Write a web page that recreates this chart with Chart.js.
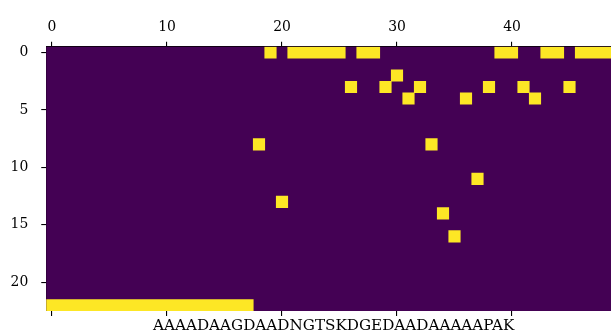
<!DOCTYPE html>
<html>
<head>
<meta charset="utf-8">
<script src="https://cdn.jsdelivr.net/npm/chart.js@4/dist/chart.umd.min.js"></script>
<style>
  html, body { margin: 0; padding: 0; background: #fff; overflow: hidden; }
  #wrap { width: 611px; height: 331px; overflow: hidden; position: relative; }
  #myChart { position: absolute; left: 0; top: 0; }
</style>
</head>
<body>
<div id="wrap"><canvas id="myChart" width="640" height="340"></canvas></div>
<script>
// matrix size (rows x columns)
const nRows = 23;
const nCols = 50;
const xTicks = [0, 10, 20, 30, 40];
const yTicks = [0, 5, 10, 15, 20];
const sequence = "AAAADAAGDAADNGTSKDGEDAADAAAAAPAK";

// columns that are "on" (value 1) in each row, row 0 first
const hotCols = [
  [19, 21, 22, 23, 24, 25, 27, 28, 39, 40, 43, 44, 46, 47, 48, 49],
  [],
  [30],
  [26, 29, 32, 38, 41, 45],
  [31, 36, 42],
  [], [], [],
  [18, 33],
  [], [],
  [37],
  [],
  [20],
  [34],
  [],
  [35],
  [], [], [], [], [],
  [0, 1, 2, 3, 4, 5, 6, 7, 8, 9, 10, 11, 12, 13, 14, 15, 16, 17],
];

// join neighbouring cells of a row into one floating bar
const cells = [];
hotCols.forEach((cols, r) => {
  let start = null, prev = null;
  cols.forEach(c => {
    if (start === null) { start = c; }
    else if (c !== prev + 1) { cells.push({ x: [start - 0.5, prev + 0.5], y: r }); start = c; }
    prev = c;
  });
  if (start !== null) cells.push({ x: [start - 0.5, prev + 0.5], y: r });
});

const font = { family: "DejaVu Serif", size: 13.9 };

const bgPlugin = {
  id: "matrixBg",
  beforeDatasetsDraw(chart) {
    const a = chart.chartArea, ctx = chart.ctx;
    ctx.save();
    ctx.fillStyle = "#440154";
    ctx.fillRect(a.left, a.top, a.right - a.left, a.bottom - a.top);
    ctx.restore();
  },
};

const axisLook = {
  offset: false,
  grid: { offset: false, drawOnChartArea: false, drawTicks: true, tickLength: 5, color: "#000", lineWidth: 1.1 },
  border: { display: true, color: "#000", width: 1.1 },
};

var ctx = document.getElementById("myChart").getContext("2d");
var myChart = new Chart(ctx, {
  type: "bar",
  data: {
    datasets: [{
      data: cells,
      backgroundColor: "#fde725",
      borderWidth: 0,
      barPercentage: 1,
      categoryPercentage: 1,
      grouped: false,
      xAxisID: "x",
      yAxisID: "y",
    }],
  },
  options: {
    indexAxis: "y",
    responsive: false,
    animation: false,
    layout: { padding: { left: 0, top: 0, right: 18.75, bottom: 0 } },
    plugins: { legend: { display: false }, tooltip: { enabled: false } },
    scales: {
      x: {
        type: "linear", position: "top", min: -0.5, max: nCols - 0.5,
        ...axisLook,
        afterBuildTicks: s => { s.ticks = xTicks.map(v => ({ value: v })); },
        ticks: { font: font, color: "#000", padding: 6, maxRotation: 0 },
        afterFit: s => { s.height = 46.75; },
      },
      x2: {
        type: "linear", position: "bottom", min: -0.5, max: nCols - 0.5,
        ...axisLook,
        afterBuildTicks: s => { s.ticks = xTicks.map(v => ({ value: v })); },
        ticks: { callback: () => "", font: font },
        title: { display: true, text: sequence, font: { family: "DejaVu Serif", size: 15.2 }, color: "#000", padding: { top: 0, bottom: 4.4 } },
        afterFit: s => { s.height = 29; },
      },
      y: {
        type: "linear", position: "left", reverse: true, min: -0.5, max: nRows - 0.5,
        ...axisLook,
        afterBuildTicks: s => { s.ticks = yTicks.map(v => ({ value: v })); },
        ticks: { font: font, color: "#000", padding: 13 },
        afterFit: s => { s.width = 46.25; },
      },
    },
  },
  plugins: [bgPlugin],
});
</script>
</body>
</html>
